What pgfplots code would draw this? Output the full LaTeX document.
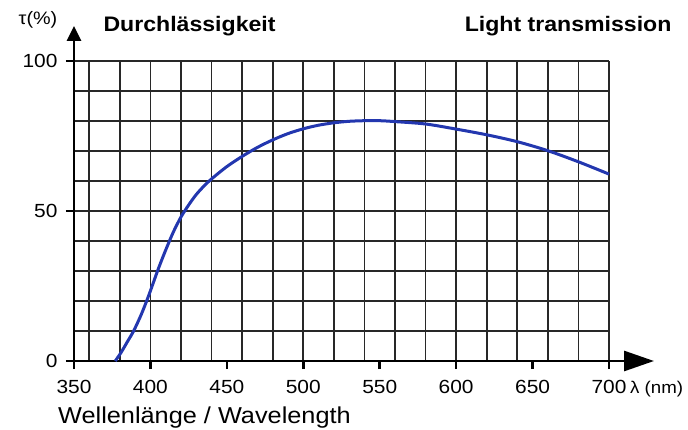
\documentclass[border=0pt]{standalone}
\usepackage{fontspec}
\setmainfont{Liberation Sans}[FakeStretch=1.1]
\usepackage{pgfplots}
\pgfplotsset{compat=1.18}
\usetikzlibrary{arrows.meta}
\definecolor{curve}{RGB}{35,55,175}
\definecolor{gridc}{RGB}{40,40,40}
\begin{document}
\begin{tikzpicture}[x=1pt,y=1pt]
\begin{axis}[
  at={(0,0)}, anchor=south west,
  scale only axis, width=535pt, height=300pt,
  xmin=350, xmax=700, ymin=0, ymax=100,
  axis lines=left,
  xtick={350,400,...,700}, ytick={0,50,100},
  minor xtick={360,380,...,700}, minor ytick={10,20,...,100},
  minor tick length=0pt,
  xminorgrids=true, yminorgrids=true,
  minor grid style={gridc, line width=1.7pt},
  tick align=outside, major tick length=8pt,
  major tick style={black, line width=2.5pt},
  axis line style={black, line width=2.8pt, -},
  ticklabel style={font=\fontsize{19}{19}\selectfont},
  /pgf/number format/assume math mode=true,
  xticklabel style={yshift=-8pt},
  yticklabel style={xshift=-5pt},
  clip=false,
]
\addplot[curve, line width=3pt, smooth, tension=0.5] coordinates {
(377,0) (381,3) (385,6.5) (389,10) (394,15.5) (399,22) (405,30.5) (410,37)
(415,43) (420,48) (425,52) (430,55.5) (435,58.3) (440,60.7) (450,64.8)
(460,68.2) (470,71.2) (480,73.7) (490,75.8) (500,77.4) (510,78.6) (520,79.4)
(530,79.9) (540,80.1) (550,80.1) (560,79.8) (580,79) (600,77.3) (620,75.4)
(640,73.1) (660,70.1) (680,66.4) (700,62.3)};
\end{axis}
\draw[line width=2.8pt, -{Triangle[length=30pt,width=20pt]}] (534,0) -- (580,0);
\draw[line width=2.8pt, -{Triangle[length=15pt,width=14pt]}] (0,299) -- (0,335);
\node[anchor=base west, font=\bfseries\fontsize{21}{21}\selectfont] at (26,329) {Durchlässigkeit};
\node[anchor=base east, font=\bfseries\fontsize{21}{21}\selectfont] at (601,329) {Light transmission};
\node[anchor=base west, inner sep=0pt, font=\fontsize{23}{23}\selectfont] at (-16,-62) {Wellenlänge / Wavelength};
\node[anchor=base west, inner sep=0pt, font=\fontsize{17}{17}\selectfont] at (556,-32) {λ (nm)};
\node[inner sep=0pt, font=\fontsize{18}{18}\selectfont] at (-36,341) {τ(\%)};
\pgfresetboundingbox
\path (-74,-68) rectangle (614,361);
\end{tikzpicture}
\end{document}
